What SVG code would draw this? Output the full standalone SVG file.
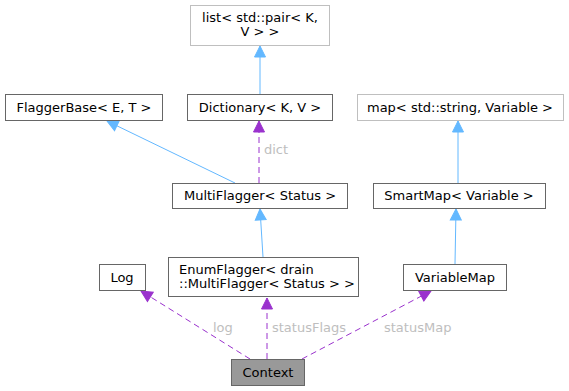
<svg xmlns="http://www.w3.org/2000/svg" width="569" height="391" viewBox="0 0 569 391">
  <style>
    .box { fill: #ffffff; stroke: #666666; stroke-width: 1; }
    .ext { fill: #ffffff; stroke: #bfbfbf; stroke-width: 1; }
    .cur { fill: #999999; stroke: #666666; stroke-width: 1; }
    text { font-family: "DejaVu Sans", "Liberation Sans", sans-serif; font-size: 13px; fill: #000000; }
    .mid { text-anchor: middle; }
    .lbl { fill: #bebebe; }
    .inh { fill: none; stroke: #63b8ff; stroke-width: 1; }
    .use { fill: none; stroke: #9a32cd; stroke-width: 1; stroke-dasharray: 6,4; }
  </style>
  <defs>
    <marker id="arrowInh" markerUnits="userSpaceOnUse" markerWidth="13" markerHeight="13" refX="11" refY="5.5" orient="auto" viewBox="-1 -1 13 13">
      <path d="M0,0 L11,5.5 L0,11 z" fill="#63b8ff" stroke="#63b8ff" stroke-width="1"/>
    </marker>
    <marker id="arrowUse" markerUnits="userSpaceOnUse" markerWidth="13" markerHeight="13" refX="11" refY="5.5" orient="auto" viewBox="-1 -1 13 13">
      <path d="M0,0 L11,5.5 L0,11 z" fill="#9a32cd" stroke="#9a32cd" stroke-width="1"/>
    </marker>
  </defs>

  <g id="connectors">
    <line class="inh" x1="260" y1="94" x2="260" y2="46" marker-end="url(#arrowInh)"/>
    <line class="inh" x1="235" y1="183" x2="107" y2="121" marker-end="url(#arrowInh)"/>
    <line class="use" x1="259" y1="183" x2="259" y2="121" marker-end="url(#arrowUse)"/>
    <text class="lbl" x="264" y="154">dict</text>
    <line class="inh" x1="458" y1="183" x2="458" y2="121" marker-end="url(#arrowInh)"/>
    <line class="inh" x1="263" y1="257" x2="260" y2="209" marker-end="url(#arrowInh)"/>
    <line class="inh" x1="455" y1="264" x2="456" y2="209" marker-end="url(#arrowInh)"/>
    <line class="use" x1="250" y1="359" x2="141" y2="291" marker-end="url(#arrowUse)"/>
    <text class="lbl" x="213" y="332">log</text>
    <line class="use" x1="267" y1="359" x2="267" y2="298" marker-end="url(#arrowUse)"/>
    <text class="lbl" x="272" y="332">statusFlags</text>
    <line class="use" x1="302" y1="359" x2="431" y2="291" marker-end="url(#arrowUse)"/>
    <text class="lbl" x="384" y="332">statusMap</text>
  </g>

  <g id="node-list">
    <rect class="ext" x="190.5" y="5.5" width="139" height="40"/>
    <text class="mid" x="260" y="22">list&lt; std::pair&lt; K,</text>
    <text class="mid" x="260" y="36">V &gt; &gt;</text>
  </g>
  <g id="node-dictionary">
    <rect class="box" x="187.5" y="94.5" width="145" height="26"/>
    <text class="mid" x="260" y="112">Dictionary&lt; K, V &gt;</text>
  </g>
  <g id="node-flaggerbase">
    <rect class="box" x="5.5" y="94.5" width="157" height="26"/>
    <text class="mid" x="84" y="112">FlaggerBase&lt; E, T &gt;</text>
  </g>
  <g id="node-map">
    <rect class="ext" x="357.5" y="94.5" width="206" height="26"/>
    <text class="mid" x="460" y="112">map&lt; std::string, Variable &gt;</text>
  </g>
  <g id="node-multiflagger">
    <rect class="box" x="172.5" y="183.5" width="175" height="25"/>
    <text class="mid" x="260" y="200">MultiFlagger&lt; Status &gt;</text>
  </g>
  <g id="node-smartmap">
    <rect class="box" x="373.5" y="183.5" width="172" height="25"/>
    <text class="mid" x="459" y="200">SmartMap&lt; Variable &gt;</text>
  </g>
  <g id="node-log">
    <rect class="box" x="99.5" y="264.5" width="46" height="26"/>
    <text class="mid" x="122" y="282">Log</text>
  </g>
  <g id="node-enumflagger">
    <rect class="box" x="168.5" y="257.5" width="190" height="39"/>
    <text x="179" y="274">EnumFlagger&lt; drain</text>
    <text x="179" y="288">::MultiFlagger&lt; Status &gt; &gt;</text>
  </g>
  <g id="node-variablemap">
    <rect class="box" x="403.5" y="264.5" width="103" height="26"/>
    <text class="mid" x="455" y="282">VariableMap</text>
  </g>
  <g id="node-context">
    <rect class="cur" x="231.5" y="359.5" width="73" height="26"/>
    <text class="mid" x="268" y="377">Context</text>
  </g>
</svg>
